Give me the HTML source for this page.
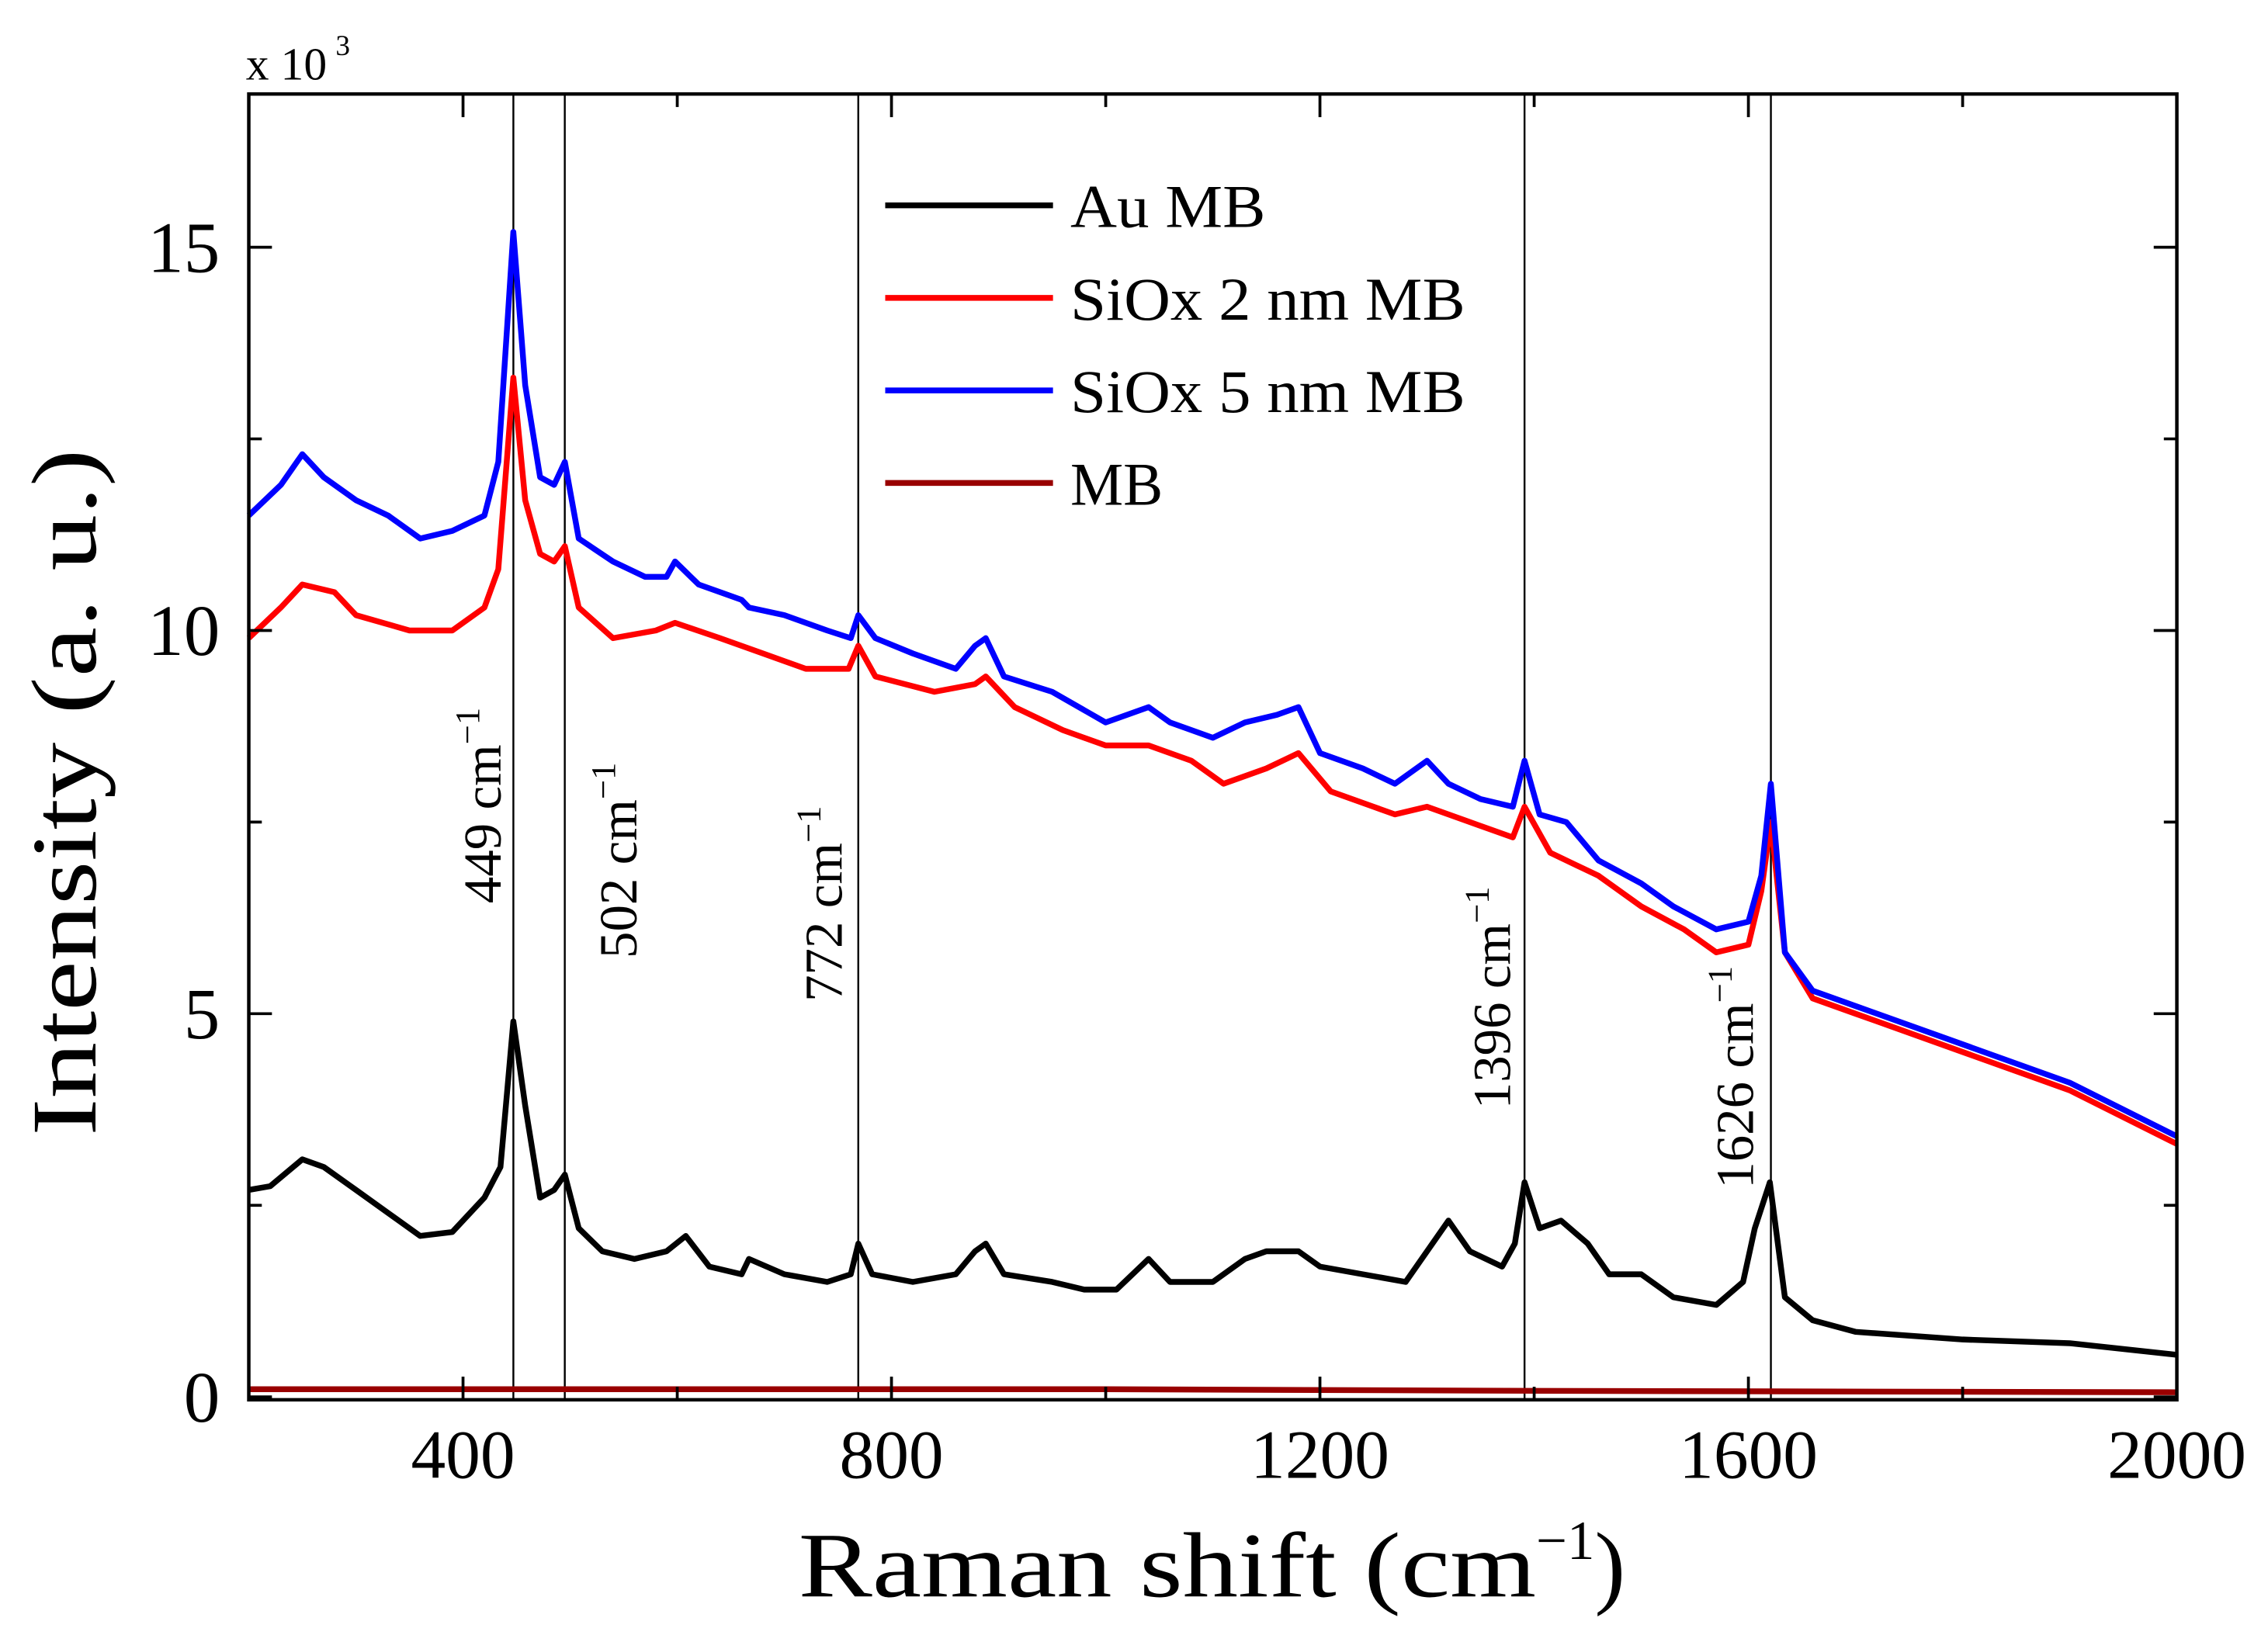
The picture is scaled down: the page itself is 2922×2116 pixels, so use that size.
<!DOCTYPE html>
<html><head><meta charset="utf-8"><style>
html,body{margin:0;padding:0;background:#fff;}
svg{display:block;font-family:"Liberation Serif",serif;}
</style></head><body>
<svg id="chart" width="2922" height="2116" viewBox="0 0 1568 1135.5" xmlns="http://www.w3.org/2000/svg">
<g id="plot"></g>
</svg>
<script>
const xTicks=[400,800,1200,1600,2000];
const yTicks=[0,5,10,15];
const peakLabels=["449","502","772","1396","1626"];
const peakPos=[447,495,769,1391,1621];
const auX=[200,220,250,270,300,330,360,390,420,435,447,458,472,485,495,508,530,560,590,608,630,660,667,700,740,762,769,782,820,860,878,888,905,950,980,1010,1040,1060,1100,1130,1150,1180,1200,1240,1280,1300,1320,1340,1370,1382,1391,1405,1425,1450,1470,1500,1530,1570,1595,1606,1620,1634,1660,1700,1800,1900,2000];
const auY=[2.7,2.75,3.1,3.0,2.7,2.4,2.1,2.15,2.6,3.0,4.9,3.8,2.6,2.7,2.9,2.2,1.9,1.8,1.9,2.1,1.7,1.6,1.8,1.6,1.5,1.6,2.0,1.6,1.5,1.6,1.9,2.0,1.6,1.5,1.4,1.4,1.8,1.5,1.5,1.8,1.9,1.9,1.7,1.6,1.5,1.9,2.3,1.9,1.7,2.0,2.8,2.2,2.3,2.0,1.6,1.6,1.3,1.2,1.5,2.2,2.8,1.3,1.0,0.85,0.75,0.7,0.55];
const s5X=[200,230,250,270,300,330,360,390,420,433,447,458,472,485,495,508,540,570,590,598,620,660,667,700,740,762,769,785,820,860,878,888,905,950,1000,1040,1060,1100,1130,1160,1180,1200,1240,1270,1300,1320,1350,1380,1391,1405,1430,1460,1500,1530,1570,1600,1612,1621,1634,1660,1700,1800,1900,2000];
const s5Y=[11.5,11.9,12.3,12.0,11.7,11.5,11.2,11.3,11.5,12.2,15.2,13.2,12.0,11.9,12.2,11.2,10.9,10.7,10.7,10.9,10.6,10.4,10.3,10.2,10.0,9.9,10.2,9.9,9.7,9.5,9.8,9.9,9.4,9.2,8.8,9.0,8.8,8.6,8.8,8.9,9.0,8.4,8.2,8.0,8.3,8.0,7.8,7.7,8.3,7.6,7.5,7.0,6.7,6.4,6.1,6.2,6.8,8.0,5.8,5.3,5.1,4.6,4.1,3.4];
const s2X=[200,230,250,280,300,350,390,420,433,447,458,472,485,495,508,540,580,598,640,680,720,760,769,785,840,878,888,915,960,1000,1040,1080,1110,1150,1180,1210,1250,1270,1300,1340,1380,1391,1415,1460,1500,1540,1570,1600,1612,1621,1634,1660,1700,1800,1900,2000];
const s2Y=[9.9,10.3,10.6,10.5,10.2,10.0,10.0,10.3,10.8,13.3,11.7,11.0,10.9,11.1,10.3,9.9,10.0,10.1,9.9,9.7,9.5,9.5,9.8,9.4,9.2,9.3,9.4,9.0,8.7,8.5,8.5,8.3,8.0,8.2,8.4,7.9,7.7,7.6,7.7,7.5,7.3,7.7,7.1,6.8,6.4,6.1,5.8,5.9,6.6,7.5,5.8,5.2,5.0,4.5,4.0,3.3];
const mbX=[200,600,1000,1400,2000];
const mbY=[0.1,0.1,0.1,0.08,0.06];

const L=172,R=1505,T=65,B=968,Y0=966,YK=53;
const sx=v=>L+(v-200)*(R-L)/1800;
const sy=v=>Y0-v*YK;
const NS="http://www.w3.org/2000/svg";
const g=document.getElementById('plot');
function mk(t,a,txt){const e=document.createElementNS(NS,t);for(const k in a)e.setAttribute(k,a[k]);if(txt!==undefined)e.textContent=txt;g.appendChild(e);return e;}

peakPos.forEach((p,i)=>{
 const l=mk('line',{x1:sx(p),x2:sx(p),y1:T,y2:B,stroke:'#000','stroke-width':1.3});
 
 
});
function series(xs,ys,col,name){
 const d=xs.map((x,i)=>(i?'L':'M')+sx(x).toFixed(1)+','+sy(ys[i]).toFixed(1)).join('');
 const p=mk('path',{d:d,fill:'none',stroke:col,'stroke-width':4,'stroke-linejoin':'round'});
 
 
}
series(mbX,mbY,'#990000','series-mb');
series(auX,auY,'#000','series-au-mb');
series(s2X,s2Y,'#ff0000','series-siox-2nm');
series(s5X,s5Y,'#0000ff','series-siox-5nm');

const fr=mk('rect',{x:L,y:T,width:R-L,height:B-T,fill:'none',stroke:'#000','stroke-width':2.4});


for(let v=200;v<=2000;v+=200){const maj=(v%400===0);const len=maj?16:9;
 mk('line',{x1:sx(v),x2:sx(v),y1:B,y2:B-len,stroke:'#000','stroke-width':2});
 mk('line',{x1:sx(v),x2:sx(v),y1:T,y2:T+len,stroke:'#000','stroke-width':2});}
xTicks.forEach(v=>{const t=mk('text',{x:sx(v),y:1022,'font-size':48,'text-anchor':'middle'},String(v));
 
 });
for(let v=0;v<=17;v+=2.5){const maj=(v%5===0);const len=maj?16:9;
 mk('line',{x1:L,x2:L+len,y1:sy(v),y2:sy(v),stroke:'#000','stroke-width':2});
 mk('line',{x1:R,x2:R-len,y1:sy(v),y2:sy(v),stroke:'#000','stroke-width':2});}
yTicks.forEach(v=>{const t=mk('text',{x:152,y:sy(v)+17,'font-size':50,'text-anchor':'end'},String(v));
 
 });
const mult=mk('text',{x:170,y:55,'font-size':32},'x 10');


mk('text',{x:232,y:38,'font-size':20},'3');

const yt=mk('text',{transform:'translate(66,548) rotate(-90)','font-size':64,'text-anchor':'middle',textLength:475,lengthAdjust:'spacingAndGlyphs'},'Intensity (a. u.)');


const xt=mk('text',{x:552,y:1104,'font-size':64});


xt.innerHTML='<tspan textLength="510" lengthAdjust="spacingAndGlyphs">Raman shift (cm</tspan><tspan dy="-26" font-size="38">−1</tspan><tspan dy="26">)</tspan>';

const pl=[[346,557],[440,595],[582,625],[1044,690],[1212,745]];
peakPos.forEach((p,i)=>{
 const t=mk('text',{transform:`translate(${pl[i][0]},${pl[i][1]}) rotate(-90)`,'font-size':37,'text-anchor':'middle'});
 t.innerHTML=peakLabels[i]+' cm<tspan dy="-15" font-size="24">−1</tspan>';
 
 
});

const leg=[['Au MB','#000'],['SiOx 2 nm MB','#ff0000'],['SiOx 5 nm MB','#0000ff'],['MB','#990000']];
const legW=[135,273,273,64];
leg.forEach((e,i)=>{const y=142+i*64;
 const l=mk('line',{x1:612,x2:728,y1:y,y2:y,stroke:e[1],'stroke-width':4});
 
 
 const t=mk('text',{x:740,y:y+15,'font-size':42,textLength:legW[i],lengthAdjust:'spacingAndGlyphs'},e[0]);
 
 
});
</script>
</body></html>
